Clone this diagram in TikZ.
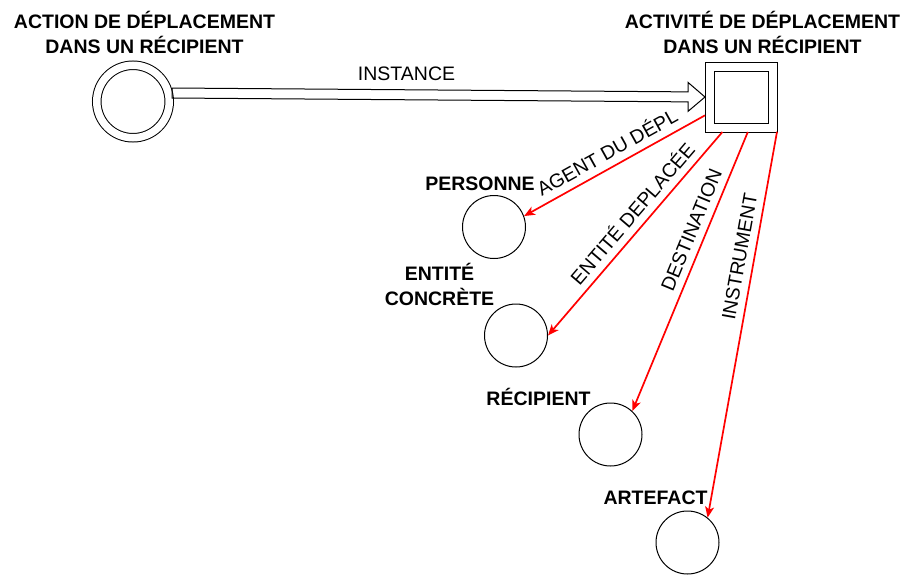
\documentclass[tikz,border=0pt]{standalone}
\usepackage{fontspec}
\setmainfont{Liberation Sans}
\usetikzlibrary{arrows.meta, calc}

\begin{document}
\begin{tikzpicture}[
    x=1pt, y=-1pt,
    font=\fontsize{19.5}{25}\selectfont,
    role/.style={circle, draw, line width=1pt, minimum size=63pt, inner sep=0pt},
    title/.style={font=\fontsize{19.5}{24.5}\selectfont\bfseries, align=center, anchor=base},
    link/.style={draw=red, line width=1.7pt, -{Stealth[length=11pt, width=9pt, inset=3pt]}},
    tag/.style={sloped, above=3pt, inner sep=4pt}
]
\useasboundingbox (0,0) rectangle (903,574);
% concepts du haut
\node[circle, draw, line width=1pt, double, double distance=7.5pt, minimum size=72.5pt, inner sep=0pt, outer sep=4.75pt] (action) at (133,101.5) {};
\node[rectangle, draw, line width=1pt, double, double distance=8pt, minimum width=63pt, minimum height=61pt, inner sep=0pt, outer sep=4.5pt] (activite) at (741,97) {};
\node[title] (actionlbl) at (144.5,53) {ACTION DE DÉPLACEMENT\\DANS UN RÉCIPIENT};
\node[title] (activitelbl) at (762.5,53) {ACTIVITÉ DE DÉPLACEMENT\\DANS UN RÉCIPIENT};
% roles
\node[role] (personne) at (494,227) {};
\node[role] (entite) at (516,335.5) {};
\node[role] (recipient) at (610.5,434.5) {};
\node[role] (artefact) at (687.5,542.5) {};
\node[title] (personnelbl) at (480,190) {PERSONNE};
\node[title] (entitelbl) at (439.5,305) {ENTITÉ\\CONCRÈTE};
\node[title] (recipientlbl) at (538.5,405) {RÉCIPIENT};
\node[title] (artefactlbl) at (655.5,504) {ARTEFACT};
% fleche creuse
\coordinate (instA) at ($(action.east)+(-2,-8.5)$);
\coordinate (instB) at ($(activite.west)!17pt!(instA)$);
\draw[line width=1pt] ($(instA)+(0,-5)$) -- ($(instB)+(0,-5)$) -- ($(instB)+(0,-14.5)$) -- (activite.west)
    -- ($(instB)+(0,14.5)$) -- ($(instB)+(0,5)$) -- ($(instA)+(0,5)$) -- cycle;
\path (instA) -- (activite.west) node[pos=0.44, above=14pt, inner sep=0pt] (instlbl) {INSTANCE};
% liens rouges
\draw[link] (activite.-153) -- (personne.20) node[tag, pos=0.5] {AGENT DU DÉPL};
\draw[link] (activite.-118.5) -- (entite.east) node[tag, pos=0.45] {ENTITÉ DEPLACÉE};
\draw[link] (activite.-79) -- (recipient.47) node[tag, pos=0.37] {DESTINATION};
\draw[link] (activite.-44) -- (artefact.51) node[tag, pos=0.33] {INSTRUMENT};
\end{tikzpicture}
\end{document}
